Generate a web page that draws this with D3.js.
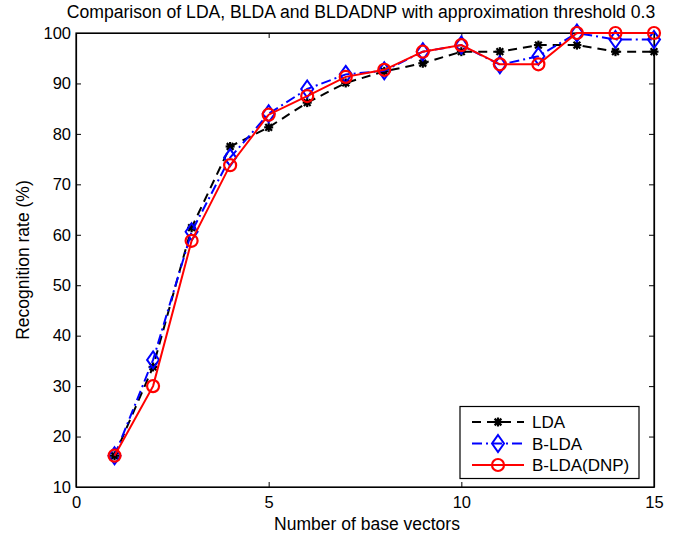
<!DOCTYPE html>
<html><head><meta charset="utf-8">
<script src="https://cdn.jsdelivr.net/npm/d3@7"></script>
<style>body{margin:0;background:#fff;} svg{display:block;font-family:"Liberation Sans",Arial,sans-serif;}</style>
</head><body><svg id="c" width="675" height="536"></svg>
<script>
const xs = [1,2,3,4,5,6,7,8,9,10,11,12,13,14,15];
const lda   = [16.2,33.8,61.4,77.5,81.3,86.2,90.1,92.4,94.0,96.3,96.3,97.6,97.6,96.3,96.3];
const blda  = [16.2,35.2,60.6,75.3,84.0,88.9,91.8,92.5,96.3,97.6,93.7,95.4,100,98.7,98.7];
const bldaDnp = [16.2,30.0,58.8,73.8,83.8,87.5,91.3,92.7,96.3,97.6,93.8,93.8,100,100,100];
const xTicks = [0,5,10,15];
const yTicks = [10,20,30,40,50,60,70,80,90,100];
const seriesNames = ["LDA","B-LDA","B-LDA(DNP)"];
const titleText = "Comparison of LDA, BLDA and BLDADNP with approximation threshold 0.3";

const svg = d3.select("#c");
const m = {l:76, r:21, t:33, b:49};
const W = 675, H = 536;
const x = d3.scaleLinear().domain([0,15]).range([m.l, W-m.r]);
const y = d3.scaleLinear().domain([10,100]).range([H-m.b, m.t]);
const FS = 16.5;

const g = svg.append("g");
g.append("rect").attr("x",m.l).attr("y",m.t).attr("width",W-m.r-m.l).attr("height",H-m.b-m.t)
 .attr("fill","none").attr("stroke","#000").attr("stroke-width",1.2);

const ax = g.append("g").attr("transform",`translate(0,${H-m.b})`)
 .call(d3.axisBottom(x).tickValues(xTicks).tickSizeInner(-5).tickSizeOuter(0).tickPadding(9));
const ax2 = g.append("g").attr("transform",`translate(0,${m.t})`)
 .call(d3.axisTop(x).tickValues(xTicks).tickSizeInner(-5).tickSizeOuter(0).tickFormat(""));
const ay = g.append("g").attr("transform",`translate(${m.l},0)`)
 .call(d3.axisLeft(y).tickValues(yTicks).tickSizeInner(-5).tickSizeOuter(0).tickPadding(5));
const ay2 = g.append("g").attr("transform",`translate(${W-m.r},0)`)
 .call(d3.axisRight(y).tickValues(yTicks).tickSizeInner(-5).tickSizeOuter(0).tickFormat(""));
[ax,ax2,ay,ay2].forEach(a=>{
  a.select(".domain").attr("stroke","#000").attr("stroke-width",1.2);
  a.selectAll("line").attr("stroke","#000");
  a.selectAll("text").attr("fill","#000").attr("font-size",FS).attr("font-family","Liberation Sans, Arial, sans-serif");
});

const line = d3.line().x((d,i)=>x(xs[i])).y(d=>y(d));
const series = [
 {name:seriesNames[0], data:lda, color:"#000", dash:"9,6", marker:"star"},
 {name:seriesNames[1], data:blda, color:"#0000ff", dash:"10,4,2,4", marker:"diamond"},
 {name:seriesNames[2], data:bldaDnp, color:"#ff0000", dash:null, marker:"circle"}
];

function drawMarker(sel, type, color, cx, cy){
  if(type==="star"){
    const s=4.5;
    const gg=sel.append("g").attr("transform",`translate(${cx},${cy})`).attr("stroke",color).attr("stroke-width",2.2);
    [[-s,0,s,0],[0,-s,0,s],[-s*0.75,-s*0.75,s*0.75,s*0.75],[-s*0.75,s*0.75,s*0.75,-s*0.75]].forEach(l=>
      gg.append("line").attr("x1",l[0]).attr("y1",l[1]).attr("x2",l[2]).attr("y2",l[3]));
    gg.append("circle").attr("r",2.8).attr("fill",color).attr("stroke","none");
  } else if(type==="diamond"){
    sel.append("path").attr("d",`M${cx},${cy-8.5} L${cx+6},${cy} L${cx},${cy+8.5} L${cx-6},${cy} Z`)
     .attr("fill","none").attr("stroke",color).attr("stroke-width",2);
  } else {
    sel.append("circle").attr("cx",cx).attr("cy",cy).attr("r",6)
     .attr("fill","none").attr("stroke",color).attr("stroke-width",2.2);
  }
}

series.forEach(s=>{
  g.append("path").datum(s.data).attr("d",line).attr("fill","none").attr("stroke",s.color)
   .attr("stroke-width",2).attr("stroke-dasharray",s.dash);
  s.data.forEach((d,i)=>drawMarker(g,s.marker,s.color,x(xs[i]),y(d)));
});

// legend
const lg = g.append("g");
lg.append("rect").attr("x",460).attr("y",406.5).attr("width",179).attr("height",72)
 .attr("fill","#fff").attr("stroke","#000").attr("stroke-width",1.2);
series.forEach((s,i)=>{
  const yy = 422 + i*21.5;
  lg.append("line").attr("x1",472).attr("x2",524).attr("y1",yy).attr("y2",yy)
   .attr("stroke",s.color).attr("stroke-width",2).attr("stroke-dasharray",s.dash);
  drawMarker(lg,s.marker,s.color,498,yy);
  lg.append("text").attr("x",532).attr("y",yy+6).attr("font-size",17).text(s.name);
});

svg.append("text").attr("x",361).attr("y",18).attr("text-anchor","middle")
 .attr("font-size",17.6).text(titleText);
svg.append("text").attr("x",367).attr("y",530).attr("text-anchor","middle")
 .attr("font-size",17.5).text("Number of base vectors");
svg.append("text").attr("transform",`translate(29,${(m.t+H-m.b)/2}) rotate(-90)`).attr("text-anchor","middle")
 .attr("font-size",17.5).text("Recognition rate (%)");
</script></body></html>
